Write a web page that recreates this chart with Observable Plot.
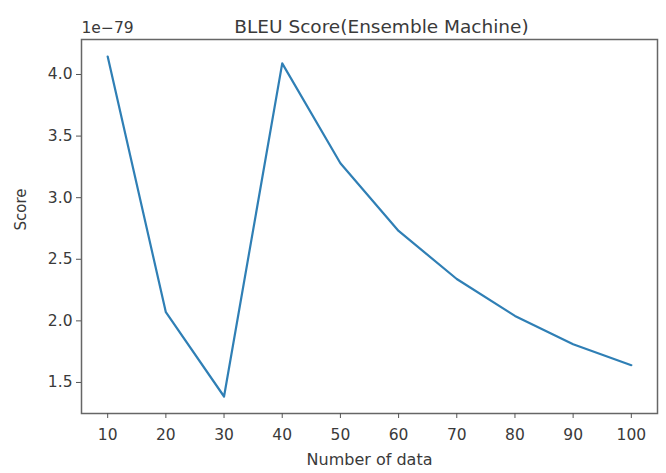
<!DOCTYPE html>
<html><head><meta charset="utf-8">
<script src="https://cdn.jsdelivr.net/npm/d3@7"></script>
<script src="https://cdn.jsdelivr.net/npm/@observablehq/plot@0.6"></script>
<style>body{margin:0;background:#fff;} svg{font-family:"DejaVu Sans",sans-serif;}</style>
</head><body><div id="chart"></div>
<script>
const numberOfData = [10, 20, 30, 40, 50, 60, 70, 80, 90, 100];
const score = [4.146, 2.07, 1.386, 4.09, 3.28, 2.73, 2.34, 2.04, 1.81, 1.64];
const xTicks = [10, 20, 30, 40, 50, 60, 70, 80, 90, 100];
const yTicks = [1.5, 2.0, 2.5, 3.0, 3.5, 4.0];
const data = numberOfData.map((n, i) => ({n, s: score[i]}));
const ink = "#3a3a3a";
const chart = Plot.plot({
  width: 666, height: 473,
  marginLeft: 81, marginRight: 9, marginTop: 39, marginBottom: 60,
  style: {fontFamily: "DejaVu Sans, sans-serif", fontSize: "15px", color: ink, background: "#fff"},
  x: {domain: [5.5, 104.5], label: null},
  y: {domain: [1.248, 4.284], label: null},
  marks: [
    Plot.frame({stroke: "#666", strokeWidth: 1.5}),
    Plot.axisX({ticks: xTicks, tickSize: 5, tickPadding: 10, tickFormat: d => String(d), fontSize: 15.5, stroke: "#555", fill: ink, label: null}),
    Plot.axisY({ticks: yTicks, tickSize: 5, tickPadding: 4, tickFormat: d => d.toFixed(1), fontSize: 15.5, stroke: "#555", fill: ink, label: null}),
    Plot.line(data, {x: "n", y: "s", stroke: "#2f7fb5", strokeWidth: 2.2}),
    Plot.text(["BLEU Score(Ensemble Machine)"], {frameAnchor: "top", dy: -20, dx: 12, fontSize: 18.5, fill: ink}),
    Plot.text(["1e\u221279"], {frameAnchor: "top-left", dy: -18, dx: 0, textAnchor: "start", fontSize: 15.5, fill: ink}),
    Plot.text(["Number of data"], {frameAnchor: "bottom", dy: 51, fontSize: 16, fill: ink}),
    Plot.text(["Score"], {frameAnchor: "left", dx: -60, dy: 4, rotate: -90, fontSize: 15, fill: ink})
  ]
});
document.getElementById("chart").appendChild(chart);
</script></body></html>
